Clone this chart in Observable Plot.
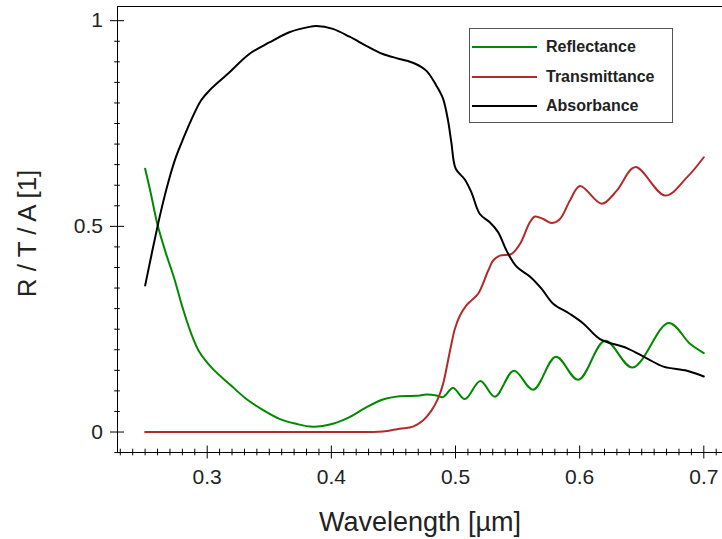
<!DOCTYPE html>
<html>
<head>
<meta charset="utf-8">
<script src="https://cdn.jsdelivr.net/npm/d3@7"></script>
<script src="https://cdn.jsdelivr.net/npm/@observablehq/plot@0.6"></script>
<style>
  html, body { margin: 0; padding: 0; background: #fff; }
  #wrap { position: relative; width: 722px; height: 539px; }
  #legend {
    position: absolute; left: 469px; top: 28px; width: 204px; height: 95px;
    border: 1px solid #555; background: #fff; box-sizing: border-box;
    font-family: "Liberation Sans", Arial, sans-serif; font-weight: bold; font-size: 16px; color: #222;
  }
  .row { position: absolute; left: 0; height: 20px; display: flex; align-items: center; }
  .row svg { margin-left: 2px; margin-right: 9px; }
</style>
</head>
<body>
<div id="wrap"><div id="legend"></div></div>
<script>
// ---- Data ----
const seriesNames = ["Reflectance", "Transmittance", "Absorbance"];
const seriesColors = ["#008a00", "#b22a2a", "#000000"];

const reflWl = [0.25, 0.2546, 0.2599, 0.2667, 0.2734, 0.2801, 0.2869, 0.2936, 0.3043, 0.3178, 0.3313, 0.3447, 0.3582, 0.3716, 0.385, 0.4012, 0.4146, 0.4281, 0.4415, 0.455, 0.4685, 0.4766, 0.4846, 0.49, 0.498, 0.5075, 0.52, 0.5317, 0.547, 0.5626, 0.5809, 0.5989, 0.6205, 0.6426, 0.6716, 0.6891, 0.70];
const reflVal = [0.64, 0.580, 0.505, 0.435, 0.374, 0.303, 0.241, 0.195, 0.154, 0.117, 0.081, 0.054, 0.032, 0.020, 0.013, 0.020, 0.036, 0.060, 0.079, 0.087, 0.088, 0.091, 0.089, 0.085, 0.107, 0.080, 0.124, 0.086, 0.149, 0.103, 0.183, 0.127, 0.222, 0.157, 0.265, 0.214, 0.192];

const transWl = [0.25, 0.30, 0.35, 0.40, 0.43, 0.4415, 0.455, 0.4657, 0.4738, 0.4806, 0.4859, 0.49, 0.494, 0.4967, 0.4994, 0.5034, 0.5088, 0.5129, 0.5182, 0.5263, 0.5303, 0.5357, 0.5452, 0.5519, 0.5599, 0.564, 0.5707, 0.5774, 0.5841, 0.5922, 0.6003, 0.6178, 0.6299, 0.6447, 0.6689, 0.6864, 0.70];
const transVal = [0, 0, 0, 0, 0, 0.001, 0.008, 0.013, 0.028, 0.052, 0.081, 0.117, 0.174, 0.214, 0.250, 0.282, 0.308, 0.320, 0.336, 0.392, 0.417, 0.429, 0.433, 0.457, 0.510, 0.524, 0.518, 0.508, 0.518, 0.563, 0.598, 0.555, 0.587, 0.644, 0.575, 0.619, 0.668];

const absWl = [0.25, 0.26, 0.265, 0.27, 0.275, 0.28, 0.2869, 0.295, 0.3017, 0.3178, 0.3339, 0.35, 0.3662, 0.3823, 0.3878, 0.4012, 0.4147, 0.4281, 0.4415, 0.455, 0.4671, 0.4766, 0.4846, 0.49, 0.494, 0.4967, 0.5002, 0.5075, 0.5129, 0.5196, 0.5276, 0.5343, 0.5411, 0.5492, 0.5599, 0.5694, 0.5787, 0.5922, 0.6029, 0.6164, 0.638, 0.6541, 0.6675, 0.6864, 0.70];
const absVal = [0.356, 0.500, 0.565, 0.622, 0.670, 0.708, 0.757, 0.806, 0.830, 0.874, 0.919, 0.947, 0.972, 0.985, 0.987, 0.980, 0.961, 0.939, 0.919, 0.907, 0.896, 0.878, 0.842, 0.810, 0.757, 0.703, 0.640, 0.614, 0.582, 0.530, 0.510, 0.486, 0.441, 0.402, 0.378, 0.348, 0.312, 0.287, 0.264, 0.226, 0.204, 0.179, 0.159, 0.149, 0.135];

const xMajorTicks = [0.3, 0.4, 0.5, 0.6, 0.7];
const yMajorTicks = [0, 0.5, 1];
const xMinorTicks = d3.range(23, 72).map(d => d / 100).filter(d => Math.round(d * 100) % 10 !== 0);
const yMinorTicks = d3.range(-1, 21).map(d => d * 0.05).filter(d => Math.round(d * 20) % 10 !== 0);

const xTitle = "Wavelength [µm]";
const yTitle = "R / T / A [1]";

// ---- Build table ----
const rows = [];
[[reflWl, reflVal], [transWl, transVal], [absWl, absVal]].forEach(([wl, v], i) => {
  wl.forEach((w, j) => rows.push({series: seriesNames[i], wl: w, v: v[j]}));
});

const W = 722, H = 539, mL = 117, mR = 0, mT = 6, mB = 87;
const xDomain = [0.22775, 0.71506];
const yDomain = [-0.0498, 1.0345];
const kx = (xDomain[1] - xDomain[0]) / (W - mL - mR);   // data units per pixel
const ky = (yDomain[1] - yDomain[0]) / (H - mT - mB);
const font = '"Liberation Sans", Arial, sans-serif';

const xTicksRule = (ticks, half) => Plot.ruleX(ticks, {x: d => d, y1: () => yDomain[0] - half * ky, y2: () => yDomain[0] + half * ky, stroke: "#000", strokeWidth: 1});
const yTicksRule = (ticks, half) => Plot.ruleY(ticks, {y: d => d, x1: () => xDomain[0] - half * kx, x2: () => xDomain[0] + half * kx, stroke: "#000", strokeWidth: 1});

const chart = Plot.plot({
  width: W,
  height: H,
  marginLeft: mL,
  marginRight: mR,
  marginTop: mT,
  marginBottom: mB,
  style: {fontFamily: font, fontSize: "21px", color: "#222", background: "#fff", overflow: "visible"},
  x: {domain: xDomain},
  y: {domain: yDomain},
  color: {domain: seriesNames, range: seriesColors},
  marks: [
    Plot.line(rows, {x: "wl", y: "v", z: "series", stroke: "series", strokeWidth: 2, curve: "catmull-rom"}),
    Plot.ruleX([xDomain[0]], {stroke: "#000", strokeWidth: 1}),
    Plot.ruleY([yDomain[0]], {stroke: "#000", strokeWidth: 1}),
    Plot.ruleY([yDomain[1]], {stroke: "#000", strokeWidth: 1}),
    // crossing tick marks
    xTicksRule(xMajorTicks, 6.5),
    xTicksRule(xMinorTicks, 3.3),
    yTicksRule(yMajorTicks, 7),
    yTicksRule(yMinorTicks, 2.8),
    // tick labels
    Plot.axisX({ticks: xMajorTicks, tickSize: 0, tickPadding: 17, tickFormat: d3.format(".1f"), label: null, fill: "#222"}),
    Plot.axisY({ticks: yMajorTicks, tickSize: 0, tickPadding: 14.5, tickFormat: d => d === 0 ? "0" : d === 1 ? "1" : d3.format(".1f")(d), label: null, fill: "#222"}),
    // titles
    Plot.text([xTitle], {frameAnchor: "bottom", lineAnchor: "middle", textAnchor: "middle", dy: 70, fontSize: 27, fill: "#222"}),
    Plot.text([yTitle], {frameAnchor: "left", lineAnchor: "middle", textAnchor: "middle", rotate: -90, dx: -90, dy: 4, fontSize: 26, fill: "#222"})
  ]
});

const wrap = document.getElementById("wrap");
wrap.insertBefore(chart, wrap.firstChild);

// ---- Legend ----
const legend = document.getElementById("legend");
const rowTops = [8, 38, 67];
seriesNames.forEach((name, i) => {
  const r = document.createElement("div");
  r.className = "row";
  r.style.top = rowTops[i] + "px";
  r.innerHTML = `<svg width="65" height="4"><line x1="0" x2="65" y1="2" y2="2" stroke="${seriesColors[i]}" stroke-width="2"/></svg><span>${name}</span>`;
  legend.appendChild(r);
});
</script>
</body>
</html>
